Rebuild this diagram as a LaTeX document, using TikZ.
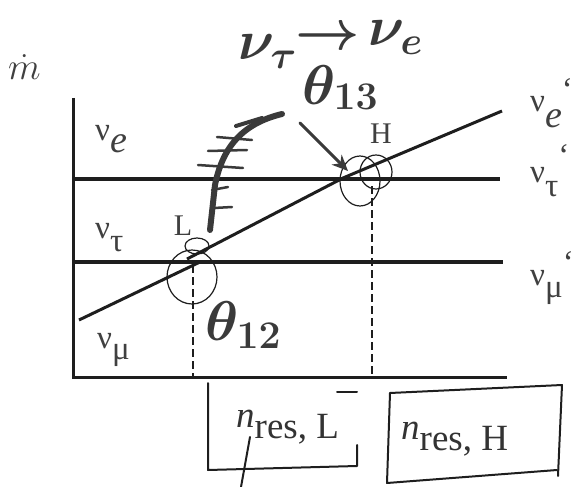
\RequirePackage{fix-cm}
\documentclass[tikz,border=0pt]{standalone}
\usepackage{fontspec}
\setmainfont{Liberation Serif}
\usetikzlibrary{arrows.meta}
\definecolor{ink}{HTML}{3A3A3A}
\definecolor{prt}{HTML}{1E1E1E}
\tikzset{
  axisline/.style={line width=3pt, draw=prt},
  levelline/.style={line width=3.5pt, draw=prt},
  diagline/.style={line width=3pt, draw=prt},
  guide/.style={line width=1.8pt, draw=prt, dash pattern=on 8pt off 4pt},
  ring/.style={line width=1.2pt, draw=prt},
  lab/.style={font=\fontsize{33}{36}\selectfont, inner sep=0pt, anchor=base west, text=black!75},
  ptlab/.style={font=\fontsize{30}{34}\selectfont, inner sep=0pt, text=black!75},
  hand/.style={text=ink, inner sep=0pt, anchor=base west, font=\fontsize{56}{60}\selectfont\boldmath},
  handline/.style={line width=3pt, draw=ink, line cap=round, line join=round},
  scrib/.style={line width=2.5pt, draw=ink, line cap=round, line join=round},
  boxtext/.style={font=\fontsize{37}{40}\selectfont, inner sep=0pt, anchor=base west, text=black!80},
  boxline/.style={line width=2pt, draw=prt, line cap=round, line join=round}
}
\begin{document}
\begin{tikzpicture}[x=1pt,y=-1pt]
\useasboundingbox (0,0) rectangle (587,487);
% axes
\coordinate (ytop) at (73,98);
\coordinate (orig) at (73,377);
\coordinate (xend) at (507,377);
\draw[axisline] (ytop) -- (orig) -- (xend);
% levels
\coordinate (t1) at (73,179); \coordinate (t2) at (500,179);
\coordinate (m1) at (73,262); \coordinate (m2) at (503,262);
\draw[levelline] (t1) -- (t2);
\draw[levelline] (m1) -- (m2);
% diagonal
\coordinate (d0) at (79,320); \coordinate (d1) at (200,262);
\coordinate (d2) at (187,259); \coordinate (d3) at (343,178); \coordinate (d4) at (502,111);
\draw[diagline] (d0) -- (d1);
\draw[diagline] (d2) -- (d3) -- (d4);
% dashed guides
\coordinate (gL) at (193,265); \coordinate (gLb) at (193,377);
\coordinate (gH) at (372,186); \coordinate (gHb) at (372,377);
\draw[guide] (gL) -- (gLb);
\draw[guide] (gH) -- (gHb);
% rings
\draw[ring] (192,277) ellipse [x radius=25, y radius=27];
\draw[ring] (197,246) ellipse [x radius=12, y radius=8];
\draw[ring] (360,181) ellipse [x radius=20, y radius=25];
\draw[ring] (376,172) ellipse [x radius=16, y radius=17];
% point labels
\node[ptlab] (Llab) at (183,226) {L};
\node[ptlab] (Hlab) at (381,134) {H};
% axis label
\node[inner sep=0pt, anchor=base west, text=black!75, font=\fontsize{38}{42}\selectfont\mathversion{normal}] (mdot) at (8,80) {$\dot{m}$};
% left labels
\node[lab] (le) at (95,140) {ν\raisebox{-13pt}{\fontsize{38}{40}\selectfont\itshape e}};
\node[lab] (lt) at (95,238) {ν\raisebox{-13pt}{τ}};
\node[lab] (lm) at (97,348) {ν\raisebox{-11pt}{μ}};
% right labels
\node[lab] (re) at (530,112) {ν\raisebox{-16pt}{\fontsize{38}{40}\selectfont\itshape e}\raisebox{12pt}{`}};
\node[lab] (rt) at (530,182) {ν\raisebox{-15pt}{τ}\raisebox{16pt}{`}};
\node[lab] (rm) at (530,285) {ν\raisebox{-12pt}{μ}\raisebox{12pt}{`}};
% handwritten
\node[hand] (h1) at (238,60) {$\nu_\tau$};
\node[hand, anchor=base] (h2) at (328,50) {$\rightarrow$};
\node[hand] (h3) at (368,46) {$\nu_e$};
\node[hand] (th13) at (302,104) {$\theta_{\raisebox{6pt}{$\scriptstyle 13$}}$};
\node[hand] (th12) at (205,340) {$\theta_{12}$};
% hand arrow to H
\coordinate (ha0) at (300,123); \coordinate (ha1) at (348,171);
\draw[handline, -{Stealth[length=16pt,width=14pt]}] (ha0) -- (ha1);
% scribble arrow toward L
\coordinate (s0) at (282,114); \coordinate (s1) at (210,230);
\draw[scrib, line width=6pt] (s0) .. controls (240,124) and (222,150) .. (215,185) -- (s1);
\draw[scrib] (217,137) -- (252,140);
\draw[scrib] (208,151) -- (247,150);
\draw[scrib] (198,165) -- (243,168);
\draw[scrib] (212,190) -- (228,187);
\draw[scrib] (214,208) -- (232,207);
\draw[scrib, line width=4pt] (236,126) -- (262,118);
% boxes
\node[boxtext] (nL) at (236,427) {\textit{n}\raisebox{-11pt}{res, L}};
\node[boxtext] (nH) at (401,439) {\textit{n}\raisebox{-11pt}{res, H}};
\draw[boxline] (337,392) -- (357,392);
\draw[boxline] (208,383) -- (208,470) -- (357,466) -- (357,445);
\draw[boxline] (390,393) -- (562,385) -- (558,476);
\draw[boxline] (390,393) -- (387,483) -- (557,470);
\coordinate (bl0) at (250,437); \coordinate (bl1) at (241,487);
\draw[boxline] (bl0) -- (bl1);
\end{tikzpicture}
\end{document}
